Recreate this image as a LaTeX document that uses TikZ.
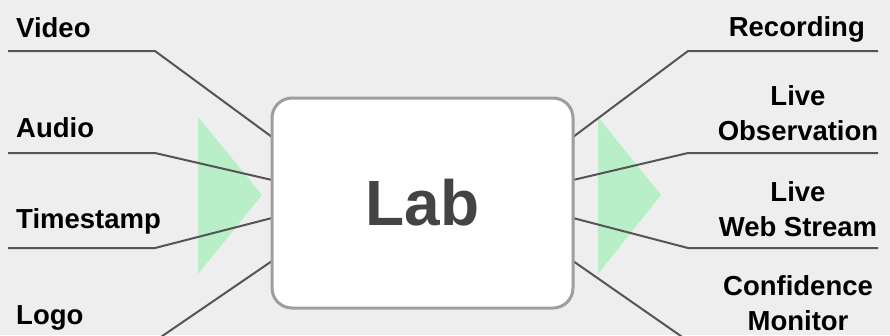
\documentclass[tikz,border=0pt]{standalone}
\usepackage{fontspec}
\setmainfont{Liberation Sans}
\definecolor{bgc}{HTML}{EEEEEE}
\definecolor{wirec}{HTML}{555555}
\definecolor{boxc}{HTML}{9E9E9E}
\definecolor{tric}{HTML}{B9EFC6}
\definecolor{labc}{HTML}{444444}
\begin{document}
\begin{tikzpicture}[x=1pt,y=-1pt,
  lbl/.style={font=\fontsize{27.5}{35}\selectfont\bfseries, text=black, inner sep=0pt, align=center},
  wire/.style={draw=wirec, line width=2pt, line join=miter},
  tri/.style={fill=tric},
  labbox/.style={draw=boxc, fill=white, line width=3pt, rounded corners=20pt,
    minimum width=301pt, minimum height=210pt, inner sep=0pt,
    font=\fontsize{64}{70}\selectfont\bfseries, text=labc}]
\fill[bgc] (0,0) rectangle (890,335);
\useasboundingbox (0,0) rectangle (890,335);
\clip (0,0) rectangle (890,335);
% green triangles
\fill[tri] (198,117) -- (262,195) -- (198,274) -- cycle;
\fill[tri] (598,117) -- (661,195) -- (598,274) -- cycle;
% coordinates
\coordinate (v0) at (8,51);   \coordinate (v1) at (155,51);  \coordinate (lv) at (272,137);
\coordinate (a0) at (8,153);  \coordinate (a1) at (155,153); \coordinate (la) at (272,180);
\coordinate (t0) at (8,248);  \coordinate (t1) at (155,248); \coordinate (lt) at (272,218);
\coordinate (g0) at (8,341);  \coordinate (g1) at (155,341); \coordinate (lg) at (272,261);
\coordinate (r0) at (878,51);  \coordinate (r1) at (688,51);  \coordinate (rr) at (573,137);
\coordinate (o0) at (878,153); \coordinate (o1) at (688,153); \coordinate (ro) at (573,180);
\coordinate (w0) at (878,248); \coordinate (w1) at (688,248); \coordinate (rw) at (573,218);
\coordinate (c0) at (878,341); \coordinate (c1) at (688,341); \coordinate (rc) at (573,261);
% connectors
\draw[wire] (v0) -- (v1) -- (lv);
\draw[wire] (a0) -- (a1) -- (la);
\draw[wire] (t0) -- (t1) -- (lt);
\draw[wire] (g0) -- (g1) -- (lg);
\draw[wire] (r0) -- (r1) -- (rr);
\draw[wire] (o0) -- (o1) -- (ro);
\draw[wire] (w0) -- (w1) -- (rw);
\draw[wire] (c0) -- (c1) -- (rc);
% central box
\node[labbox] (lab) at (422.5,203) {Lab};
% labels
\node[lbl, anchor=base west] (video) at (16,37) {Video};
\node[lbl, anchor=base west] (audio) at (16,137) {Audio};
\node[lbl, anchor=base west] (ts) at (16,228) {Timestamp};
\node[lbl, anchor=base west] (logo) at (16,324) {Logo};
\node[lbl, anchor=base east] (rec) at (865,36) {Recording};
\node[lbl, anchor=base] (obs) at (798,140) {Live\\Observation};
\node[lbl, anchor=base] (web) at (798,236) {Live\\Web Stream};
\node[lbl, anchor=base] (conf) at (798,330) {Confidence\\Monitor};
\end{tikzpicture}
\end{document}
